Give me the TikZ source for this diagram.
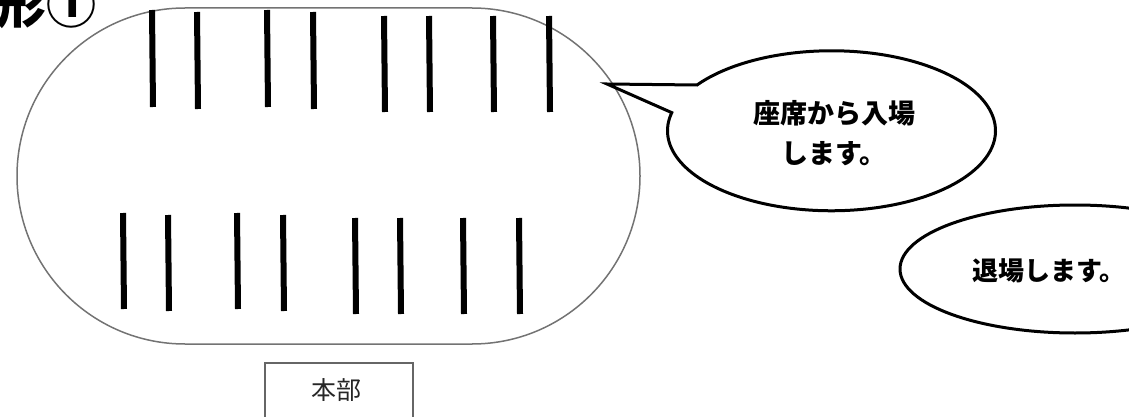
\documentclass[tikz,border=0pt]{standalone}
\usepackage{fontspec}
\newfontfamily\jp{Noto Sans CJK JP}
\begin{document}
\begin{tikzpicture}[x=1pt,y=-1pt,
  seat/.style={line width=6pt,black},
  venue/.style={line width=1.5pt,draw=black!55},
  bubble/.style={line width=3pt,draw=black,line join=miter},
  saytext/.style={font=\jp\bfseries\fontsize{27}{40}\selectfont,inner sep=0pt,align=center},
  hqbox/.style={line width=1.3pt,draw=black!60},
]
\useasboundingbox (0,0) rectangle (1129,417);
\clip (0,0) rectangle (1129,417);
% venue
\draw[venue,rounded corners=168pt] (17,8) rectangle (640,344);
% top seats
\foreach \x/\a/\b in {152/10/107,197/12/109,267/10/107,313/12/109,384/16/112,429/16/112,493/16/112,549/16/112}
  \draw[seat] (\x,\a) -- (\x+1,\b);
% bottom seats
\foreach \x/\a/\b in {123/213/309,168/215/311,237/213/309,283/215/311,355/218/314,400/218/314,463/218/314,519/218/314}
  \draw[seat] (\x,\a) -- (\x+1,\b);
% callout 1
\coordinate (tip) at (607,84);
\draw[bubble,fill=white] (tip) -- (697,85)
  arc[start angle=214.9,end angle=553.1,x radius=164,y radius=80] -- cycle;
\node[saytext] (enter) at (834,133) {座席から入場\\します。};
% callout 2
\draw[bubble,fill=white] (1075,269) ellipse[x radius=175,y radius=64];
\node[saytext,font=\jp\bfseries\fontsize{26}{40}\selectfont,anchor=west] (exit) at (972,271) {退場します。};
% HQ box
\draw[hqbox] (265,363) rectangle (413,430);
\node[font=\jp\fontsize{25}{25}\selectfont,inner sep=0pt,text=black!85] (hq) at (336,390) {本部};
% title
\node[font=\jp\bfseries\fontsize{50}{50}\selectfont,inner sep=0pt,anchor=base east] (title) at (97,24) {形①};
\end{tikzpicture}
\end{document}
